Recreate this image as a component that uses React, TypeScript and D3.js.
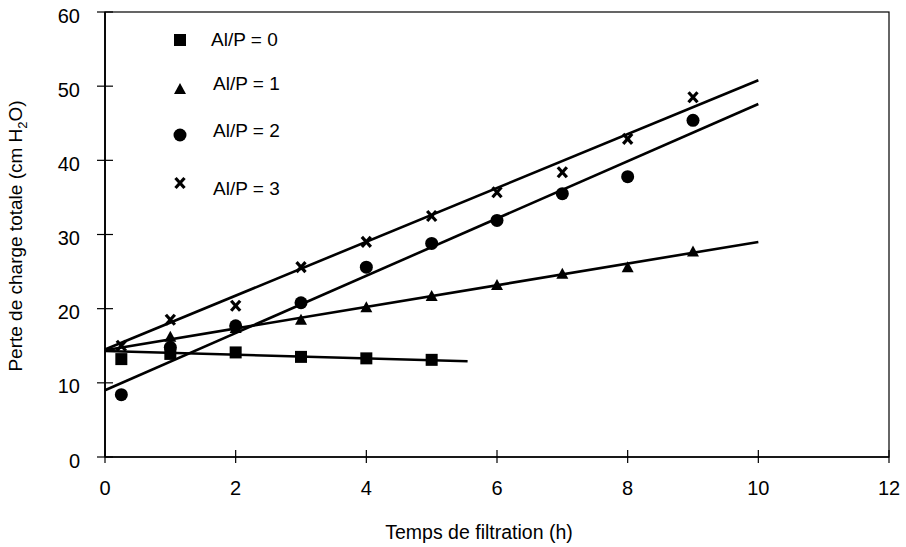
import React from "react";
import * as d3 from "d3";

// measured points, x = filtration time (h), y = head loss (cm H2O)
const seriesNames = ["Al/P = 0", "Al/P = 1", "Al/P = 2", "Al/P = 3"];

const pointsAlP0 = [
  [0.25, 13.2], [1, 13.9], [2, 14.1], [3, 13.5], [4, 13.3], [5, 13.1],
];
const pointsAlP1 = [
  [1, 16.2], [2, 17.4], [3, 18.5], [4, 20.2], [5, 21.7], [6, 23.2], [7, 24.7], [8, 25.6], [9, 27.7],
];
const pointsAlP2 = [
  [0.25, 8.4], [1, 14.8], [2, 17.7], [3, 20.8], [4, 25.6], [5, 28.8], [6, 31.9], [7, 35.5], [8, 37.8], [9, 45.4],
];
const pointsAlP3 = [
  [0.25, 15.0], [1, 18.5], [2, 20.4], [3, 25.6], [4, 29.0], [5, 32.5], [6, 35.7], [7, 38.4], [8, 42.9], [9, 48.5],
];

// fitted trend lines (end points)
const trendAlP0 = [[0, 14.3], [5.55, 12.9]];
const trendAlP1 = [[0, 14.4], [10, 29.0]];
const trendAlP2 = [[0, 9.0], [10, 47.6]];
const trendAlP3 = [[0, 14.5], [10, 50.8]];

const xTicks = [0, 2, 4, 6, 8, 10, 12];
const yTicks = [0, 10, 20, 30, 40, 50, 60];

const FONT = "'Liberation Sans', Arial, sans-serif";

type Shape = "square" | "triangle" | "circle" | "cross";

const Marker = ({ shape, x, y }: { shape: Shape; x: number; y: number }) => {
  if (shape === "square") {
    return <rect x={x - 6} y={y - 6} width={12} height={12} fill="#000" />;
  }
  if (shape === "triangle") {
    return <path d={`M${x},${y - 6}L${x + 6},${y + 5}L${x - 6},${y + 5}Z`} fill="#000" />;
  }
  if (shape === "circle") {
    return <circle cx={x} cy={y} r={6.5} fill="#000" />;
  }
  return (
    <g stroke="#000" strokeWidth={3.2}>
      <line x1={x - 4.5} y1={y - 5} x2={x + 4.5} y2={y + 5} />
      <line x1={x + 4.5} y1={y - 5} x2={x - 4.5} y2={y + 5} />
    </g>
  );
};

const App = () => {
  const width = 906;
  const height = 547;
  const margin = { top: 12, right: 17, bottom: 90, left: 105 };

  const x = d3.scaleLinear().domain([0, 12]).range([margin.left, width - margin.right]);
  const y = d3.scaleLinear().domain([0, 60]).range([height - margin.bottom, margin.top]);

  const line = d3
    .line<number[]>()
    .x((d) => x(d[0]))
    .y((d) => y(d[1]));

  const shapes: Shape[] = ["square", "triangle", "circle", "cross"];
  const points = [pointsAlP0, pointsAlP1, pointsAlP2, pointsAlP3];
  const trends = [trendAlP0, trendAlP1, trendAlP2, trendAlP3];

  // legend rows (marker y, text baseline)
  const legendRows = [
    { my: 40, ty: 46 },
    { my: 89, ty: 90 },
    { my: 135, ty: 137 },
    { my: 183, ty: 195 },
  ];

  const x0 = x(0);
  const y0 = y(0);

  return (
    <svg
      width={width}
      height={height}
      style={{ position: "absolute", left: 0, top: 0, background: "#fff" }}
      fontFamily={FONT}
    >
      {/* frame */}
      <rect
        x={x(0)}
        y={y(60)}
        width={x(12) - x(0)}
        height={y(0) - y(60)}
        fill="none"
        stroke="#000"
        strokeWidth={1.2}
      />
      <line x1={x0} y1={y(60)} x2={x0} y2={y0} stroke="#000" strokeWidth={1.8} />
      <line x1={x0} y1={y0} x2={x(12)} y2={y0} stroke="#000" strokeWidth={1.5} />

      {/* y ticks */}
      {yTicks.map((t) => (
        <g key={`y${t}`}>
          <line x1={x0 - 8} x2={x0 + 8} y1={y(t)} y2={y(t)} stroke="#000" strokeWidth={1.2} />
          <text x={x0 - 25} y={y(t) + 10.5} textAnchor="end" fontSize={20}>
            {t}
          </text>
        </g>
      ))}

      {/* x ticks */}
      {xTicks.map((t) => (
        <g key={`x${t}`}>
          <line x1={x(t)} x2={x(t)} y1={y0 - 7} y2={y0 + 6} stroke="#000" strokeWidth={1.2} />
          <text x={x(t)} y={y0 + 38} textAnchor="middle" fontSize={20}>
            {t}
          </text>
        </g>
      ))}

      {/* axis titles */}
      <text x={479} y={539} textAnchor="middle" fontSize={19.5}>
        Temps de filtration (h)
      </text>
      <text transform={`translate(22,236) rotate(-90)`} textAnchor="middle" fontSize={19}>
        Perte de charge totale (cm H
        <tspan fontSize={13} dy={5}>2</tspan>
        <tspan dy={-5}>O)</tspan>
      </text>

      {/* trend lines */}
      {trends.map((tr, i) => (
        <path key={`t${i}`} d={line(tr) ?? ""} fill="none" stroke="#000" strokeWidth={2.6} />
      ))}

      {/* data markers */}
      {points.map((pts, i) =>
        pts.map((p, j) => <Marker key={`m${i}-${j}`} shape={shapes[i]} x={x(p[0])} y={y(p[1])} />)
      )}

      {/* legend */}
      {seriesNames.map((name, i) => (
        <g key={name}>
          <Marker shape={shapes[i]} x={180} y={legendRows[i].my} />
          <text x={i === 0 ? 211 : 213} y={legendRows[i].ty} fontSize={19}>
            {name}
          </text>
        </g>
      ))}
    </svg>
  );
};

export default App;
